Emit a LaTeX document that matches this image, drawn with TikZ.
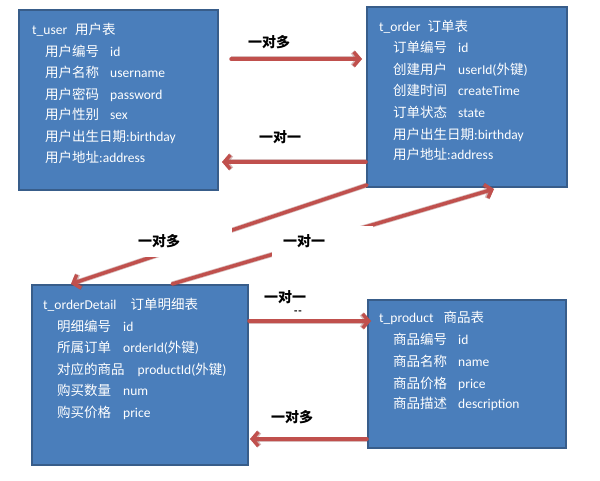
\documentclass[tikz,border=0pt]{standalone}
\usepackage{fontspec}
\setmainfont{Carlito}
\newfontfamily\cjk{Noto Sans CJK SC}
\usetikzlibrary{arrows.meta,calc}
\newcommand{\zh}[1]{{\cjk #1}}
\definecolor{boxfill}{HTML}{4A7EBB}
\definecolor{boxline}{HTML}{385D8A}
\definecolor{relred}{HTML}{C0504D}
\definecolor{reldark}{HTML}{8E3A38}
\tikzset{
  tbl/.style={draw=boxline, line width=2pt, fill=boxfill, inner sep=0pt},
  row/.style={anchor=base west, text=white, inner sep=0pt, font=\fontsize{13.5}{16}\selectfont},
  rel/.style={draw=relred, line width=3.5pt, line cap=round,
    -{Straight Barb[length=6pt,width=14pt]},
    preaction={draw=reldark, opacity=0.35, line width=5pt}},
  lbl/.style={font=\fontsize{14}{16}\selectfont\cjk\bfseries, inner sep=0pt, text=black},
  masklbl/.style={lbl, fill=white, anchor=west, minimum height=31pt, align=left},
}
\begin{document}
\begin{tikzpicture}[x=1pt,y=-1pt]
\useasboundingbox (0,0) rectangle (600,481);
% tables
\node[tbl, minimum width=199pt, minimum height=180pt] (user) at (118.5,100) {};
\node[tbl, minimum width=200pt, minimum height=180pt] (order) at (467,97) {};
\node[tbl, minimum width=216pt, minimum height=180pt] (detail) at (140,375) {};
\node[tbl, minimum width=198pt, minimum height=148pt] (product) at (467,374) {};
% user rows
\node[row] (u0) at (32,35) {t\_user\hspace{8pt}\zh{用户表}};
\node[row] (u1) at (45,57) {\zh{用户编号}\hspace{11pt}id};
\node[row] (u2) at (45,78) {\zh{用户名称}\hspace{11pt}username};
\node[row] (u3) at (45,100) {\zh{用户密码}\hspace{11pt}password};
\node[row] (u4) at (45,120) {\zh{用户性别}\hspace{11pt}sex};
\node[row] (u5) at (45,142) {\zh{用户出生日期}:birthday};
\node[row] (u6) at (45,163) {\zh{用户地址}:address};
% order rows
\node[row] (o0) at (379,32) {t\_order\hspace{7pt}\zh{订单表}};
\node[row] (o1) at (393,53) {\zh{订单编号}\hspace{11pt}id};
\node[row] (o2) at (393,75) {\zh{创建用户}\hspace{11pt}userId(\zh{外键})};
\node[row] (o3) at (393,96) {\zh{创建时间}\hspace{11pt}createTime};
\node[row] (o4) at (393,118) {\zh{订单状态}\hspace{11pt}state};
\node[row] (o5) at (393,140) {\zh{用户出生日期}:birthday};
\node[row] (o6) at (393,160) {\zh{用户地址}:address};
% detail rows
\node[row] (d0) at (43,309) {t\_orderDetail\hspace{14pt}\zh{订单明细表}};
\node[row] (d1) at (57,331) {\zh{明细编号}\hspace{12pt}id};
\node[row] (d2) at (57,352) {\zh{所属订单}\hspace{12pt}orderId(\zh{外键})};
\node[row] (d3) at (57,374) {\zh{对应的商品}\hspace{13pt}productId(\zh{外键})};
\node[row] (d4) at (57,395) {\zh{购买数量}\hspace{12pt}num};
\node[row] (d5) at (57,417) {\zh{购买价格}\hspace{12pt}price};
% product rows
\node[row] (p0) at (379,323) {t\_product\hspace{10pt}\zh{商品表}};
\node[row] (p1) at (393,344) {\zh{商品编号}\hspace{11pt}id};
\node[row] (p2) at (393,366) {\zh{商品名称}\hspace{11pt}name};
\node[row] (p3) at (393,388) {\zh{商品价格}\hspace{11pt}price};
\node[row] (p4) at (393,408) {\zh{商品描述}\hspace{11pt}description};
% relations
\draw[rel] ($(user.north east)+(12,50)$) -- ($(order.north west)+(-4,53)$);
\draw[rel] ($(order.south west)+(0,-26)$) -- ($(user.south east)+(3,-29)$);
\draw[rel] ($(order.south west)+(1,-3)$) -- ($(detail.north west)+(40,0)$);
\draw[rel] ($(detail.north west)+(141,0)$) -- ($(order.south west)+(128,1)$);
\draw[rel] ($(detail.north east)+(0,37)$) -- ($(product.north west)+(4,22)$);
\draw[rel] ($(product.south west)+(0,-10)$) -- ($(detail.south east)+(1,-27)$);
% labels
\node[lbl] (l1) at (269,42) {一对多};
\node[lbl] (l2) at (280,137) {一对一};
\node[masklbl, text width=91pt, inner xsep=3pt] (l3) at (135,241.5) {一对多};
\node[masklbl, text width=79pt, inner xsep=11pt] (l4) at (272,241.5) {一对一};
\node[lbl] (l5) at (285,297) {一对一};
\node[lbl, font=\fontsize{11}{11}\selectfont\bfseries] (l6) at (298,313) {-\hspace{1pt}-};
\node[lbl] (l7) at (292,417) {一对多};
\end{tikzpicture}
\end{document}
